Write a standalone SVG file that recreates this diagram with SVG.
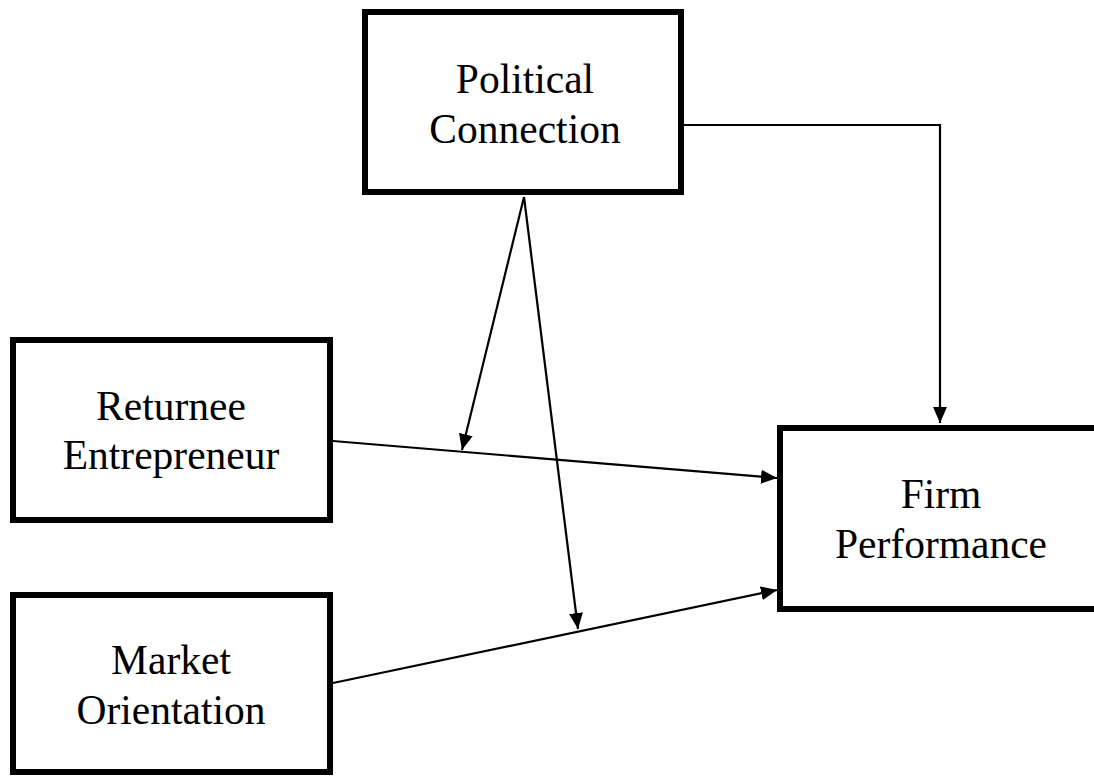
<svg xmlns="http://www.w3.org/2000/svg" width="1094" height="776" viewBox="0 0 1094 776">
  <defs>
    <marker id="arrow" markerUnits="userSpaceOnUse" markerWidth="16" markerHeight="14" refX="16" refY="7" orient="auto">
      <path d="M0,0 L16,7 L0,14 Z" fill="#000"/>
    </marker>
    <style>
      .box { fill: #fff; stroke: #000; stroke-width: 6; }
      .label { font-family: "Liberation Serif", "Times New Roman", serif; font-size: 41.5px; fill: #000; text-anchor: middle; }
      .link { fill: none; stroke: #000; stroke-width: 2.2; marker-end: url(#arrow); }
    </style>
  </defs>
  <rect width="1094" height="776" fill="#fff"/>

  <g id="connectors">
    <path class="link" d="M684,125 L940,125 L940,423"/>
    <path class="link" d="M333,441 L777,478"/>
    <path class="link" d="M333,683 L777,590"/>
    <path class="link" d="M524,197 L462,450"/>
    <path class="link" d="M524,197 L578,629"/>
  </g>

  <g id="political-connection">
    <rect class="box" x="365" y="12" width="316" height="180"/>
    <text class="label" x="525" y="93">Political</text>
    <text class="label" x="525" y="143">Connection</text>
  </g>

  <g id="returnee-entrepreneur">
    <rect class="box" x="13" y="340" width="317" height="180"/>
    <text class="label" x="171" y="420">Returnee</text>
    <text class="label" x="171" y="469">Entrepreneur</text>
  </g>

  <g id="market-orientation">
    <rect class="box" x="13" y="595" width="317" height="177"/>
    <text class="label" x="171" y="674">Market</text>
    <text class="label" x="171" y="724">Orientation</text>
  </g>

  <g id="firm-performance">
    <rect class="box" x="780" y="428" width="324" height="181"/>
    <text class="label" x="941" y="508">Firm</text>
    <text class="label" x="941" y="558">Performance</text>
  </g>
</svg>
